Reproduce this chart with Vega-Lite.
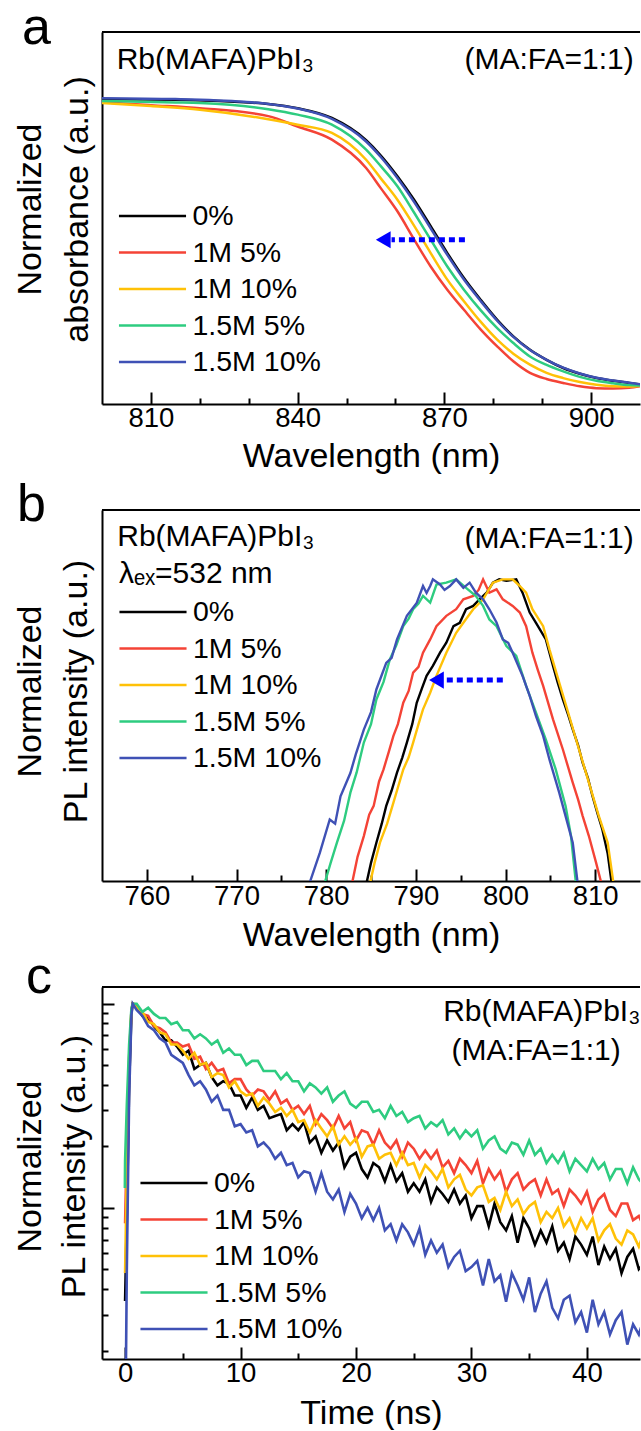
{
"$schema": "https://vega.github.io/schema/vega-lite/v6.json",
"background": "white",
"padding": {"left": 13, "top": 2, "right": 0, "bottom": 0},
"autosize": {"type": "pad"},
"bounds": "flush",
"spacing": 106,
"resolve": {"scale": {"x": "independent", "y": "independent", "color": "independent"}, "axis": {"x": "independent", "y": "independent"}, "legend": {"color": "independent"}},
"config": {
  "font": "Liberation Sans",
  "view": {"stroke": null},
  "axis": {"labelFont": "Liberation Sans", "titleFont": "Liberation Sans", "labelFontSize": 27.5, "titleFontSize": 34, "titleFontWeight": "normal", "labelColor": "#000", "titleColor": "#000", "domainColor": "#000", "domainWidth": 2, "tickColor": "#000", "tickWidth": 2, "grid": false, "labelFlush": false, "labelOverlap": false},
  "legend": {"orient": "none", "title": null, "symbolType": "stroke", "symbolSize": 4500, "symbolStrokeWidth": 2.6, "labelFont": "Liberation Sans", "labelFontSize": 28.5, "labelColor": "#000", "clipHeight": 30, "rowPadding": 6.5, "labelOffset": 5, "padding": 0, "symbolOffset": 0},
  "title": {"font": "Liberation Sans", "fontSize": 52, "fontWeight": "normal", "color": "#000", "anchor": "start", "frame": "group", "baseline": "alphabetic", "offset": 0}
},
"datasets": {
"absorbance": [
{"sample":"0%","wavelength":800,"absorbance":1.000},{"sample":"0%","wavelength":815,"absorbance":0.998},{"sample":"0%","wavelength":829,"absorbance":0.990},{"sample":"0%","wavelength":834,"absorbance":0.984},{"sample":"0%","wavelength":840,"absorbance":0.970},{"sample":"0%","wavelength":847,"absorbance":0.938},{"sample":"0%","wavelength":854,"absorbance":0.865},{"sample":"0%","wavelength":857,"absorbance":0.815},{"sample":"0%","wavelength":860.4,"absorbance":0.747},{"sample":"0%","wavelength":863.8,"absorbance":0.670},{"sample":"0%","wavelength":867.2,"absorbance":0.583},{"sample":"0%","wavelength":870.6,"absorbance":0.495},{"sample":"0%","wavelength":874,"absorbance":0.413},{"sample":"0%","wavelength":877.4,"absorbance":0.342},{"sample":"0%","wavelength":880.8,"absorbance":0.276},{"sample":"0%","wavelength":884.1,"absorbance":0.222},{"sample":"0%","wavelength":887.5,"absorbance":0.178},{"sample":"0%","wavelength":890.9,"absorbance":0.145},{"sample":"0%","wavelength":894.3,"absorbance":0.118},{"sample":"0%","wavelength":897.7,"absorbance":0.099},{"sample":"0%","wavelength":901.1,"absorbance":0.085},{"sample":"0%","wavelength":904.5,"absorbance":0.076},{"sample":"0%","wavelength":907.8,"absorbance":0.069},{"sample":"0%","wavelength":910,"absorbance":0.064},
{"sample":"1M 5%","wavelength":800,"absorbance":0.990},{"sample":"1M 5%","wavelength":810,"absorbance":0.980},{"sample":"1M 5%","wavelength":820,"absorbance":0.970},{"sample":"1M 5%","wavelength":834,"absorbance":0.944},{"sample":"1M 5%","wavelength":840,"absorbance":0.910},{"sample":"1M 5%","wavelength":847,"absorbance":0.867},{"sample":"1M 5%","wavelength":854,"absorbance":0.774},{"sample":"1M 5%","wavelength":857,"absorbance":0.708},{"sample":"1M 5%","wavelength":860.4,"absorbance":0.632},{"sample":"1M 5%","wavelength":863.8,"absorbance":0.540},{"sample":"1M 5%","wavelength":867.2,"absorbance":0.451},{"sample":"1M 5%","wavelength":870.6,"absorbance":0.375},{"sample":"1M 5%","wavelength":874,"absorbance":0.309},{"sample":"1M 5%","wavelength":877.4,"absorbance":0.245},{"sample":"1M 5%","wavelength":880.8,"absorbance":0.189},{"sample":"1M 5%","wavelength":884.1,"absorbance":0.140},{"sample":"1M 5%","wavelength":887.5,"absorbance":0.102},{"sample":"1M 5%","wavelength":890.9,"absorbance":0.082},{"sample":"1M 5%","wavelength":894.3,"absorbance":0.069},{"sample":"1M 5%","wavelength":897.7,"absorbance":0.058},{"sample":"1M 5%","wavelength":901.1,"absorbance":0.052},{"sample":"1M 5%","wavelength":904.5,"absorbance":0.051},{"sample":"1M 5%","wavelength":907.8,"absorbance":0.053},{"sample":"1M 5%","wavelength":910,"absorbance":0.058},
{"sample":"1M 10%","wavelength":800,"absorbance":0.987},{"sample":"1M 10%","wavelength":810,"absorbance":0.977},{"sample":"1M 10%","wavelength":820,"absorbance":0.965},{"sample":"1M 10%","wavelength":834,"absorbance":0.934},{"sample":"1M 10%","wavelength":840,"absorbance":0.916},{"sample":"1M 10%","wavelength":847,"absorbance":0.889},{"sample":"1M 10%","wavelength":854,"absorbance":0.801},{"sample":"1M 10%","wavelength":857,"absorbance":0.740},{"sample":"1M 10%","wavelength":860.4,"absorbance":0.670},{"sample":"1M 10%","wavelength":863.8,"absorbance":0.585},{"sample":"1M 10%","wavelength":867.2,"absorbance":0.495},{"sample":"1M 10%","wavelength":870.6,"absorbance":0.408},{"sample":"1M 10%","wavelength":874,"absorbance":0.337},{"sample":"1M 10%","wavelength":877.4,"absorbance":0.270},{"sample":"1M 10%","wavelength":880.8,"absorbance":0.211},{"sample":"1M 10%","wavelength":884.1,"absorbance":0.165},{"sample":"1M 10%","wavelength":887.5,"absorbance":0.129},{"sample":"1M 10%","wavelength":890.9,"absorbance":0.102},{"sample":"1M 10%","wavelength":894.3,"absorbance":0.085},{"sample":"1M 10%","wavelength":897.7,"absorbance":0.072},{"sample":"1M 10%","wavelength":901.1,"absorbance":0.063},{"sample":"1M 10%","wavelength":904.5,"absorbance":0.058},{"sample":"1M 10%","wavelength":907.8,"absorbance":0.057},{"sample":"1M 10%","wavelength":910,"absorbance":0.060},
{"sample":"1.5M 5%","wavelength":800,"absorbance":0.994},{"sample":"1.5M 5%","wavelength":815,"absorbance":0.989},{"sample":"1.5M 5%","wavelength":820,"absorbance":0.987},{"sample":"1.5M 5%","wavelength":834,"absorbance":0.967},{"sample":"1.5M 5%","wavelength":840,"absorbance":0.949},{"sample":"1.5M 5%","wavelength":847,"absorbance":0.916},{"sample":"1.5M 5%","wavelength":854,"absorbance":0.834},{"sample":"1.5M 5%","wavelength":857,"absorbance":0.780},{"sample":"1.5M 5%","wavelength":860.4,"absorbance":0.714},{"sample":"1.5M 5%","wavelength":863.8,"absorbance":0.628},{"sample":"1.5M 5%","wavelength":867.2,"absorbance":0.539},{"sample":"1.5M 5%","wavelength":870.6,"absorbance":0.451},{"sample":"1.5M 5%","wavelength":874,"absorbance":0.375},{"sample":"1.5M 5%","wavelength":877.4,"absorbance":0.308},{"sample":"1.5M 5%","wavelength":880.8,"absorbance":0.249},{"sample":"1.5M 5%","wavelength":884.1,"absorbance":0.200},{"sample":"1.5M 5%","wavelength":887.5,"absorbance":0.156},{"sample":"1.5M 5%","wavelength":890.9,"absorbance":0.128},{"sample":"1.5M 5%","wavelength":894.3,"absorbance":0.107},{"sample":"1.5M 5%","wavelength":897.7,"absorbance":0.089},{"sample":"1.5M 5%","wavelength":901.1,"absorbance":0.076},{"sample":"1.5M 5%","wavelength":904.5,"absorbance":0.068},{"sample":"1.5M 5%","wavelength":907.8,"absorbance":0.062},{"sample":"1.5M 5%","wavelength":910,"absorbance":0.061},
{"sample":"1.5M 10%","wavelength":800,"absorbance":1.003},{"sample":"1.5M 10%","wavelength":815,"absorbance":1.000},{"sample":"1.5M 10%","wavelength":829,"absorbance":0.991},{"sample":"1.5M 10%","wavelength":834,"absorbance":0.984},{"sample":"1.5M 10%","wavelength":840,"absorbance":0.969},{"sample":"1.5M 10%","wavelength":847,"absorbance":0.935},{"sample":"1.5M 10%","wavelength":854,"absorbance":0.861},{"sample":"1.5M 10%","wavelength":857,"absorbance":0.810},{"sample":"1.5M 10%","wavelength":860.4,"absorbance":0.741},{"sample":"1.5M 10%","wavelength":863.8,"absorbance":0.663},{"sample":"1.5M 10%","wavelength":867.2,"absorbance":0.576},{"sample":"1.5M 10%","wavelength":870.6,"absorbance":0.489},{"sample":"1.5M 10%","wavelength":874,"absorbance":0.408},{"sample":"1.5M 10%","wavelength":877.4,"absorbance":0.338},{"sample":"1.5M 10%","wavelength":880.8,"absorbance":0.273},{"sample":"1.5M 10%","wavelength":884.1,"absorbance":0.220},{"sample":"1.5M 10%","wavelength":887.5,"absorbance":0.177},{"sample":"1.5M 10%","wavelength":890.9,"absorbance":0.145},{"sample":"1.5M 10%","wavelength":894.3,"absorbance":0.119},{"sample":"1.5M 10%","wavelength":897.7,"absorbance":0.100},{"sample":"1.5M 10%","wavelength":901.1,"absorbance":0.086},{"sample":"1.5M 10%","wavelength":904.5,"absorbance":0.077},{"sample":"1.5M 10%","wavelength":907.8,"absorbance":0.070},{"sample":"1.5M 10%","wavelength":910,"absorbance":0.065}
],
"pl": [
{"sample":"0%","wavelength":784.4,"pl":-0.02},{"sample":"0%","wavelength":785.0,"pl":0.06},{"sample":"0%","wavelength":785.6,"pl":0.127},{"sample":"0%","wavelength":786.2,"pl":0.19},{"sample":"0%","wavelength":786.7,"pl":0.249},{"sample":"0%","wavelength":787.3,"pl":0.30},{"sample":"0%","wavelength":787.9,"pl":0.359},{"sample":"0%","wavelength":788.5,"pl":0.41},{"sample":"0%","wavelength":789.0,"pl":0.459},{"sample":"0%","wavelength":789.6,"pl":0.52},{"sample":"0%","wavelength":790.1,"pl":0.591},{"sample":"0%","wavelength":790.7,"pl":0.64},{"sample":"0%","wavelength":791.2,"pl":0.680},{"sample":"0%","wavelength":791.9,"pl":0.713},{"sample":"0%","wavelength":792.7,"pl":0.757},{"sample":"0%","wavelength":793.4,"pl":0.790},{"sample":"0%","wavelength":794.2,"pl":0.845},{"sample":"0%","wavelength":794.9,"pl":0.856},{"sample":"0%","wavelength":795.6,"pl":0.901},{"sample":"0%","wavelength":796.4,"pl":0.912},{"sample":"0%","wavelength":797.1,"pl":0.934},{"sample":"0%","wavelength":797.9,"pl":0.956},{"sample":"0%","wavelength":798.6,"pl":0.989},{"sample":"0%","wavelength":799.3,"pl":1.000},{"sample":"0%","wavelength":800.1,"pl":0.995},{"sample":"0%","wavelength":801.2,"pl":1.000},{"sample":"0%","wavelength":801.9,"pl":0.956},{"sample":"0%","wavelength":802.7,"pl":0.890},{"sample":"0%","wavelength":803.4,"pl":0.856},{"sample":"0%","wavelength":804.5,"pl":0.801},{"sample":"0%","wavelength":805.3,"pl":0.713},{"sample":"0%","wavelength":805.8,"pl":0.66},{"sample":"0%","wavelength":806.4,"pl":0.602},{"sample":"0%","wavelength":807.0,"pl":0.55},{"sample":"0%","wavelength":807.5,"pl":0.503},{"sample":"0%","wavelength":808.1,"pl":0.45},{"sample":"0%","wavelength":808.6,"pl":0.392},{"sample":"0%","wavelength":809.2,"pl":0.34},{"sample":"0%","wavelength":809.7,"pl":0.282},{"sample":"0%","wavelength":810.3,"pl":0.22},{"sample":"0%","wavelength":810.8,"pl":0.171},{"sample":"0%","wavelength":811.4,"pl":0.09},{"sample":"0%","wavelength":811.9,"pl":-0.02},
{"sample":"1M 5%","wavelength":782.8,"pl":-0.02},{"sample":"1M 5%","wavelength":783.5,"pl":0.08},{"sample":"1M 5%","wavelength":784.2,"pl":0.149},{"sample":"1M 5%","wavelength":784.8,"pl":0.22},{"sample":"1M 5%","wavelength":785.3,"pl":0.249},{"sample":"1M 5%","wavelength":785.9,"pl":0.33},{"sample":"1M 5%","wavelength":786.4,"pl":0.370},{"sample":"1M 5%","wavelength":787.0,"pl":0.43},{"sample":"1M 5%","wavelength":787.5,"pl":0.481},{"sample":"1M 5%","wavelength":788.0,"pl":0.52},{"sample":"1M 5%","wavelength":788.6,"pl":0.591},{"sample":"1M 5%","wavelength":789.2,"pl":0.63},{"sample":"1M 5%","wavelength":789.7,"pl":0.691},{"sample":"1M 5%","wavelength":790.3,"pl":0.71},{"sample":"1M 5%","wavelength":790.8,"pl":0.757},{"sample":"1M 5%","wavelength":791.6,"pl":0.801},{"sample":"1M 5%","wavelength":792.3,"pl":0.845},{"sample":"1M 5%","wavelength":793.4,"pl":0.879},{"sample":"1M 5%","wavelength":794.5,"pl":0.901},{"sample":"1M 5%","wavelength":795.3,"pl":0.934},{"sample":"1M 5%","wavelength":796.4,"pl":0.945},{"sample":"1M 5%","wavelength":797.0,"pl":0.965},{"sample":"1M 5%","wavelength":797.5,"pl":1.000},{"sample":"1M 5%","wavelength":798.2,"pl":0.956},{"sample":"1M 5%","wavelength":799.0,"pl":0.967},{"sample":"1M 5%","wavelength":799.7,"pl":0.934},{"sample":"1M 5%","wavelength":800.8,"pl":0.912},{"sample":"1M 5%","wavelength":801.6,"pl":0.890},{"sample":"1M 5%","wavelength":802.3,"pl":0.845},{"sample":"1M 5%","wavelength":803.0,"pl":0.757},{"sample":"1M 5%","wavelength":803.6,"pl":0.70},{"sample":"1M 5%","wavelength":804.2,"pl":0.647},{"sample":"1M 5%","wavelength":805.3,"pl":0.536},{"sample":"1M 5%","wavelength":806.4,"pl":0.436},{"sample":"1M 5%","wavelength":807.5,"pl":0.326},{"sample":"1M 5%","wavelength":808.1,"pl":0.27},{"sample":"1M 5%","wavelength":808.6,"pl":0.216},{"sample":"1M 5%","wavelength":809.3,"pl":0.149},{"sample":"1M 5%","wavelength":810.1,"pl":0.061},{"sample":"1M 5%","wavelength":810.8,"pl":-0.02},
{"sample":"1M 10%","wavelength":784.8,"pl":-0.02},{"sample":"1M 10%","wavelength":785.4,"pl":0.06},{"sample":"1M 10%","wavelength":786.0,"pl":0.127},{"sample":"1M 10%","wavelength":786.8,"pl":0.19},{"sample":"1M 10%","wavelength":787.5,"pl":0.260},{"sample":"1M 10%","wavelength":788.0,"pl":0.31},{"sample":"1M 10%","wavelength":788.6,"pl":0.370},{"sample":"1M 10%","wavelength":789.2,"pl":0.41},{"sample":"1M 10%","wavelength":789.7,"pl":0.459},{"sample":"1M 10%","wavelength":790.3,"pl":0.52},{"sample":"1M 10%","wavelength":790.8,"pl":0.569},{"sample":"1M 10%","wavelength":791.6,"pl":0.624},{"sample":"1M 10%","wavelength":792.3,"pl":0.680},{"sample":"1M 10%","wavelength":793.4,"pl":0.757},{"sample":"1M 10%","wavelength":794.5,"pl":0.823},{"sample":"1M 10%","wavelength":795.3,"pl":0.856},{"sample":"1M 10%","wavelength":796.4,"pl":0.901},{"sample":"1M 10%","wavelength":797.5,"pl":0.934},{"sample":"1M 10%","wavelength":798.6,"pl":0.989},{"sample":"1M 10%","wavelength":799.7,"pl":1.000},{"sample":"1M 10%","wavelength":800.8,"pl":1.000},{"sample":"1M 10%","wavelength":801.6,"pl":0.978},{"sample":"1M 10%","wavelength":802.3,"pl":0.956},{"sample":"1M 10%","wavelength":803.0,"pl":0.901},{"sample":"1M 10%","wavelength":804.2,"pl":0.845},{"sample":"1M 10%","wavelength":804.9,"pl":0.768},{"sample":"1M 10%","wavelength":806.0,"pl":0.657},{"sample":"1M 10%","wavelength":807.1,"pl":0.547},{"sample":"1M 10%","wavelength":808.2,"pl":0.436},{"sample":"1M 10%","wavelength":809.3,"pl":0.326},{"sample":"1M 10%","wavelength":810.4,"pl":0.216},{"sample":"1M 10%","wavelength":811.4,"pl":0.127},{"sample":"1M 10%","wavelength":812.1,"pl":-0.02},
{"sample":"1.5M 5%","wavelength":779.7,"pl":-0.02},{"sample":"1.5M 5%","wavelength":780.5,"pl":0.06},{"sample":"1.5M 5%","wavelength":781.2,"pl":0.127},{"sample":"1.5M 5%","wavelength":782.0,"pl":0.20},{"sample":"1.5M 5%","wavelength":782.7,"pl":0.293},{"sample":"1.5M 5%","wavelength":783.4,"pl":0.36},{"sample":"1.5M 5%","wavelength":784.2,"pl":0.459},{"sample":"1.5M 5%","wavelength":785.0,"pl":0.52},{"sample":"1.5M 5%","wavelength":785.6,"pl":0.602},{"sample":"1.5M 5%","wavelength":786.4,"pl":0.66},{"sample":"1.5M 5%","wavelength":787.1,"pl":0.735},{"sample":"1.5M 5%","wavelength":787.8,"pl":0.78},{"sample":"1.5M 5%","wavelength":788.6,"pl":0.845},{"sample":"1.5M 5%","wavelength":789.2,"pl":0.87},{"sample":"1.5M 5%","wavelength":789.7,"pl":0.901},{"sample":"1.5M 5%","wavelength":790.3,"pl":0.92},{"sample":"1.5M 5%","wavelength":790.8,"pl":0.945},{"sample":"1.5M 5%","wavelength":791.6,"pl":0.923},{"sample":"1.5M 5%","wavelength":792.3,"pl":0.983},{"sample":"1.5M 5%","wavelength":793.4,"pl":0.989},{"sample":"1.5M 5%","wavelength":794.5,"pl":1.000},{"sample":"1.5M 5%","wavelength":795.6,"pl":0.972},{"sample":"1.5M 5%","wavelength":796.7,"pl":0.945},{"sample":"1.5M 5%","wavelength":797.5,"pl":0.912},{"sample":"1.5M 5%","wavelength":798.2,"pl":0.867},{"sample":"1.5M 5%","wavelength":799.0,"pl":0.845},{"sample":"1.5M 5%","wavelength":800.1,"pl":0.779},{"sample":"1.5M 5%","wavelength":801.2,"pl":0.746},{"sample":"1.5M 5%","wavelength":802.3,"pl":0.647},{"sample":"1.5M 5%","wavelength":803.4,"pl":0.558},{"sample":"1.5M 5%","wavelength":804.5,"pl":0.469},{"sample":"1.5M 5%","wavelength":805.6,"pl":0.370},{"sample":"1.5M 5%","wavelength":806.7,"pl":0.249},{"sample":"1.5M 5%","wavelength":807.3,"pl":0.15},{"sample":"1.5M 5%","wavelength":807.9,"pl":-0.02},
{"sample":"1.5M 10%","wavelength":778.0,"pl":-0.02},{"sample":"1.5M 10%","wavelength":779.3,"pl":0.094},{"sample":"1.5M 10%","wavelength":780.4,"pl":0.204},{"sample":"1.5M 10%","wavelength":781.0,"pl":0.190},{"sample":"1.5M 10%","wavelength":781.6,"pl":0.281},{"sample":"1.5M 10%","wavelength":782.7,"pl":0.358},{"sample":"1.5M 10%","wavelength":783.3,"pl":0.420},{"sample":"1.5M 10%","wavelength":784.2,"pl":0.502},{"sample":"1.5M 10%","wavelength":785.0,"pl":0.560},{"sample":"1.5M 10%","wavelength":785.6,"pl":0.635},{"sample":"1.5M 10%","wavelength":786.7,"pl":0.723},{"sample":"1.5M 10%","wavelength":787.3,"pl":0.740},{"sample":"1.5M 10%","wavelength":787.9,"pl":0.801},{"sample":"1.5M 10%","wavelength":789.0,"pl":0.879},{"sample":"1.5M 10%","wavelength":790.1,"pl":0.922},{"sample":"1.5M 10%","wavelength":790.8,"pl":0.978},{"sample":"1.5M 10%","wavelength":791.2,"pl":0.955},{"sample":"1.5M 10%","wavelength":791.6,"pl":0.978},{"sample":"1.5M 10%","wavelength":791.9,"pl":1.000},{"sample":"1.5M 10%","wavelength":792.7,"pl":0.983},{"sample":"1.5M 10%","wavelength":793.2,"pl":0.965},{"sample":"1.5M 10%","wavelength":793.8,"pl":0.978},{"sample":"1.5M 10%","wavelength":794.5,"pl":1.000},{"sample":"1.5M 10%","wavelength":795.3,"pl":0.972},{"sample":"1.5M 10%","wavelength":796.0,"pl":0.989},{"sample":"1.5M 10%","wavelength":796.7,"pl":0.956},{"sample":"1.5M 10%","wavelength":797.5,"pl":0.934},{"sample":"1.5M 10%","wavelength":798.2,"pl":0.901},{"sample":"1.5M 10%","wavelength":799.0,"pl":0.857},{"sample":"1.5M 10%","wavelength":799.7,"pl":0.801},{"sample":"1.5M 10%","wavelength":800.3,"pl":0.790},{"sample":"1.5M 10%","wavelength":800.8,"pl":0.757},{"sample":"1.5M 10%","wavelength":801.9,"pl":0.680},{"sample":"1.5M 10%","wavelength":802.7,"pl":0.614},{"sample":"1.5M 10%","wavelength":803.4,"pl":0.547},{"sample":"1.5M 10%","wavelength":804.2,"pl":0.481},{"sample":"1.5M 10%","wavelength":804.9,"pl":0.403},{"sample":"1.5M 10%","wavelength":806.0,"pl":0.292},{"sample":"1.5M 10%","wavelength":806.7,"pl":0.215},{"sample":"1.5M 10%","wavelength":807.5,"pl":0.127},{"sample":"1.5M 10%","wavelength":808.1,"pl":-0.02}
],
"trpl": [
{"sample":"0%","time":0,"intensity":0.035},{"sample":"0%","time":0.15,"intensity":0.09},{"sample":"0%","time":0.35,"intensity":0.40},{"sample":"0%","time":0.55,"intensity":0.90},{"sample":"0%","time":0.66,"intensity":1.0},
{"sample":"0%","time":1,"intensity":0.977},{"sample":"0%","time":1.5,"intensity":0.871},{"sample":"0%","time":2,"intensity":0.851},{"sample":"0%","time":2.5,"intensity":0.776},{"sample":"0%","time":3,"intensity":0.724},{"sample":"0%","time":3.5,"intensity":0.661},{"sample":"0%","time":4,"intensity":0.661},{"sample":"0%","time":4.5,"intensity":0.617},{"sample":"0%","time":5,"intensity":0.562},{"sample":"0%","time":5.5,"intensity":0.589},{"sample":"0%","time":6,"intensity":0.479},{"sample":"0%","time":6.5,"intensity":0.501},{"sample":"0%","time":7,"intensity":0.513},{"sample":"0%","time":7.5,"intensity":0.437},{"sample":"0%","time":8,"intensity":0.398},{"sample":"0%","time":8.5,"intensity":0.417},{"sample":"0%","time":9,"intensity":0.407},{"sample":"0%","time":9.5,"intensity":0.355},{"sample":"0%","time":10,"intensity":0.355},{"sample":"0%","time":10.5,"intensity":0.309},{"sample":"0%","time":11,"intensity":0.347},{"sample":"0%","time":11.5,"intensity":0.302},{"sample":"0%","time":12,"intensity":0.316},{"sample":"0%","time":12.5,"intensity":0.275},{"sample":"0%","time":13,"intensity":0.282},{"sample":"0%","time":13.5,"intensity":0.288},{"sample":"0%","time":14,"intensity":0.240},{"sample":"0%","time":14.5,"intensity":0.257},{"sample":"0%","time":15,"intensity":0.240},{"sample":"0%","time":15.5,"intensity":0.263},{"sample":"0%","time":16,"intensity":0.209},{"sample":"0%","time":16.5,"intensity":0.224},{"sample":"0%","time":17,"intensity":0.186},{"sample":"0%","time":17.5,"intensity":0.214},{"sample":"0%","time":18,"intensity":0.191},{"sample":"0%","time":18.5,"intensity":0.209},{"sample":"0%","time":19,"intensity":0.158},{"sample":"0%","time":19.5,"intensity":0.178},{"sample":"0%","time":20,"intensity":0.186},{"sample":"0%","time":20.5,"intensity":0.155},{"sample":"0%","time":21,"intensity":0.141},{"sample":"0%","time":21.5,"intensity":0.166},{"sample":"0%","time":22,"intensity":0.158},{"sample":"0%","time":22.5,"intensity":0.135},{"sample":"0%","time":23,"intensity":0.162},{"sample":"0%","time":23.5,"intensity":0.135},{"sample":"0%","time":24,"intensity":0.148},{"sample":"0%","time":24.5,"intensity":0.120},{"sample":"0%","time":25,"intensity":0.132},{"sample":"0%","time":25.5,"intensity":0.120},{"sample":"0%","time":26,"intensity":0.138},{"sample":"0%","time":26.5,"intensity":0.107},{"sample":"0%","time":27,"intensity":0.126},{"sample":"0%","time":27.5,"intensity":0.117},{"sample":"0%","time":28,"intensity":0.107},{"sample":"0%","time":28.5,"intensity":0.123},{"sample":"0%","time":29,"intensity":0.105},{"sample":"0%","time":29.5,"intensity":0.115},{"sample":"0%","time":30,"intensity":0.0891},{"sample":"0%","time":30.5,"intensity":0.102},{"sample":"0%","time":31,"intensity":0.102},{"sample":"0%","time":31.5,"intensity":0.0813},{"sample":"0%","time":32,"intensity":0.105},{"sample":"0%","time":32.5,"intensity":0.0851},{"sample":"0%","time":33,"intensity":0.0776},{"sample":"0%","time":33.5,"intensity":0.0912},{"sample":"0%","time":34,"intensity":0.0676},{"sample":"0%","time":34.5,"intensity":0.0891},{"sample":"0%","time":35,"intensity":0.0794},{"sample":"0%","time":35.5,"intensity":0.0661},{"sample":"0%","time":36,"intensity":0.0776},{"sample":"0%","time":36.5,"intensity":0.0676},{"sample":"0%","time":37,"intensity":0.0813},{"sample":"0%","time":37.5,"intensity":0.0617},{"sample":"0%","time":38,"intensity":0.0676},{"sample":"0%","time":38.5,"intensity":0.0562},{"sample":"0%","time":39,"intensity":0.0724},{"sample":"0%","time":39.5,"intensity":0.0661},{"sample":"0%","time":40,"intensity":0.0589},{"sample":"0%","time":40.5,"intensity":0.0724},{"sample":"0%","time":41,"intensity":0.0525},{"sample":"0%","time":41.5,"intensity":0.0646},{"sample":"0%","time":42,"intensity":0.0562},{"sample":"0%","time":42.5,"intensity":0.0631},{"sample":"0%","time":43,"intensity":0.0479},{"sample":"0%","time":43.5,"intensity":0.0575},{"sample":"0%","time":44,"intensity":0.0631},{"sample":"0%","time":44.5,"intensity":0.0501},{"sample":"0%","time":45,"intensity":0.0537},
{"sample":"1M 5%","time":0,"intensity":0.084},{"sample":"1M 5%","time":0.15,"intensity":0.20},{"sample":"1M 5%","time":0.35,"intensity":0.55},{"sample":"1M 5%","time":0.55,"intensity":0.93},{"sample":"1M 5%","time":0.66,"intensity":1.0},
{"sample":"1M 5%","time":1,"intensity":0.99},{"sample":"1M 5%","time":1.5,"intensity":0.891},{"sample":"1M 5%","time":2,"intensity":0.871},{"sample":"1M 5%","time":2.5,"intensity":0.776},{"sample":"1M 5%","time":3,"intensity":0.759},{"sample":"1M 5%","time":3.5,"intensity":0.724},{"sample":"1M 5%","time":4,"intensity":0.646},{"sample":"1M 5%","time":4.5,"intensity":0.646},{"sample":"1M 5%","time":5,"intensity":0.617},{"sample":"1M 5%","time":5.5,"intensity":0.631},{"sample":"1M 5%","time":6,"intensity":0.537},{"sample":"1M 5%","time":6.5,"intensity":0.550},{"sample":"1M 5%","time":7,"intensity":0.479},{"sample":"1M 5%","time":7.5,"intensity":0.513},{"sample":"1M 5%","time":8,"intensity":0.468},{"sample":"1M 5%","time":8.5,"intensity":0.479},{"sample":"1M 5%","time":9,"intensity":0.407},{"sample":"1M 5%","time":9.5,"intensity":0.427},{"sample":"1M 5%","time":10,"intensity":0.427},{"sample":"1M 5%","time":10.5,"intensity":0.380},{"sample":"1M 5%","time":11,"intensity":0.355},{"sample":"1M 5%","time":11.5,"intensity":0.380},{"sample":"1M 5%","time":12,"intensity":0.372},{"sample":"1M 5%","time":12.5,"intensity":0.339},{"sample":"1M 5%","time":13,"intensity":0.372},{"sample":"1M 5%","time":13.5,"intensity":0.324},{"sample":"1M 5%","time":14,"intensity":0.339},{"sample":"1M 5%","time":14.5,"intensity":0.302},{"sample":"1M 5%","time":15,"intensity":0.316},{"sample":"1M 5%","time":15.5,"intensity":0.288},{"sample":"1M 5%","time":16,"intensity":0.316},{"sample":"1M 5%","time":16.5,"intensity":0.257},{"sample":"1M 5%","time":17,"intensity":0.288},{"sample":"1M 5%","time":17.5,"intensity":0.269},{"sample":"1M 5%","time":18,"intensity":0.245},{"sample":"1M 5%","time":18.5,"intensity":0.282},{"sample":"1M 5%","time":19,"intensity":0.245},{"sample":"1M 5%","time":19.5,"intensity":0.263},{"sample":"1M 5%","time":20,"intensity":0.214},{"sample":"1M 5%","time":20.5,"intensity":0.240},{"sample":"1M 5%","time":21,"intensity":0.234},{"sample":"1M 5%","time":21.5,"intensity":0.204},{"sample":"1M 5%","time":22,"intensity":0.240},{"sample":"1M 5%","time":22.5,"intensity":0.209},{"sample":"1M 5%","time":23,"intensity":0.195},{"sample":"1M 5%","time":23.5,"intensity":0.214},{"sample":"1M 5%","time":24,"intensity":0.178},{"sample":"1M 5%","time":24.5,"intensity":0.209},{"sample":"1M 5%","time":25,"intensity":0.195},{"sample":"1M 5%","time":25.5,"intensity":0.174},{"sample":"1M 5%","time":26,"intensity":0.191},{"sample":"1M 5%","time":26.5,"intensity":0.174},{"sample":"1M 5%","time":27,"intensity":0.191},{"sample":"1M 5%","time":27.5,"intensity":0.158},{"sample":"1M 5%","time":28,"intensity":0.170},{"sample":"1M 5%","time":28.5,"intensity":0.148},{"sample":"1M 5%","time":29,"intensity":0.174},{"sample":"1M 5%","time":29.5,"intensity":0.162},{"sample":"1M 5%","time":30,"intensity":0.148},{"sample":"1M 5%","time":30.5,"intensity":0.170},{"sample":"1M 5%","time":31,"intensity":0.132},{"sample":"1M 5%","time":31.5,"intensity":0.155},{"sample":"1M 5%","time":32,"intensity":0.138},{"sample":"1M 5%","time":32.5,"intensity":0.151},{"sample":"1M 5%","time":33,"intensity":0.120},{"sample":"1M 5%","time":33.5,"intensity":0.138},{"sample":"1M 5%","time":34,"intensity":0.148},{"sample":"1M 5%","time":34.5,"intensity":0.123},{"sample":"1M 5%","time":35,"intensity":0.132},{"sample":"1M 5%","time":35.5,"intensity":0.138},{"sample":"1M 5%","time":36,"intensity":0.115},{"sample":"1M 5%","time":36.5,"intensity":0.138},{"sample":"1M 5%","time":37,"intensity":0.117},{"sample":"1M 5%","time":37.5,"intensity":0.123},{"sample":"1M 5%","time":38,"intensity":0.102},{"sample":"1M 5%","time":38.5,"intensity":0.123},{"sample":"1M 5%","time":39,"intensity":0.115},{"sample":"1M 5%","time":39.5,"intensity":0.105},{"sample":"1M 5%","time":40,"intensity":0.120},{"sample":"1M 5%","time":40.5,"intensity":0.0955},{"sample":"1M 5%","time":41,"intensity":0.110},{"sample":"1M 5%","time":41.5,"intensity":0.117},{"sample":"1M 5%","time":42,"intensity":0.0977},{"sample":"1M 5%","time":42.5,"intensity":0.0912},{"sample":"1M 5%","time":43,"intensity":0.105},{"sample":"1M 5%","time":43.5,"intensity":0.105},{"sample":"1M 5%","time":44,"intensity":0.0871},{"sample":"1M 5%","time":44.5,"intensity":0.0912},{"sample":"1M 5%","time":45,"intensity":0.0794},
{"sample":"1M 10%","time":0,"intensity":0.048},{"sample":"1M 10%","time":0.15,"intensity":0.15},{"sample":"1M 10%","time":0.35,"intensity":0.50},{"sample":"1M 10%","time":0.55,"intensity":0.92},{"sample":"1M 10%","time":0.66,"intensity":1.0},
{"sample":"1M 10%","time":1,"intensity":0.955},{"sample":"1M 10%","time":1.5,"intensity":0.912},{"sample":"1M 10%","time":2,"intensity":0.813},{"sample":"1M 10%","time":2.5,"intensity":0.794},{"sample":"1M 10%","time":3,"intensity":0.724},{"sample":"1M 10%","time":3.5,"intensity":0.708},{"sample":"1M 10%","time":4,"intensity":0.631},{"sample":"1M 10%","time":4.5,"intensity":0.631},{"sample":"1M 10%","time":5,"intensity":0.589},{"sample":"1M 10%","time":5.5,"intensity":0.537},{"sample":"1M 10%","time":6,"intensity":0.575},{"sample":"1M 10%","time":6.5,"intensity":0.501},{"sample":"1M 10%","time":7,"intensity":0.513},{"sample":"1M 10%","time":7.5,"intensity":0.437},{"sample":"1M 10%","time":8,"intensity":0.457},{"sample":"1M 10%","time":8.5,"intensity":0.447},{"sample":"1M 10%","time":9,"intensity":0.389},{"sample":"1M 10%","time":9.5,"intensity":0.417},{"sample":"1M 10%","time":10,"intensity":0.372},{"sample":"1M 10%","time":10.5,"intensity":0.355},{"sample":"1M 10%","time":11,"intensity":0.363},{"sample":"1M 10%","time":11.5,"intensity":0.316},{"sample":"1M 10%","time":12,"intensity":0.347},{"sample":"1M 10%","time":12.5,"intensity":0.324},{"sample":"1M 10%","time":13,"intensity":0.295},{"sample":"1M 10%","time":13.5,"intensity":0.309},{"sample":"1M 10%","time":14,"intensity":0.282},{"sample":"1M 10%","time":14.5,"intensity":0.302},{"sample":"1M 10%","time":15,"intensity":0.263},{"sample":"1M 10%","time":15.5,"intensity":0.269},{"sample":"1M 10%","time":16,"intensity":0.234},{"sample":"1M 10%","time":16.5,"intensity":0.269},{"sample":"1M 10%","time":17,"intensity":0.245},{"sample":"1M 10%","time":17.5,"intensity":0.224},{"sample":"1M 10%","time":18,"intensity":0.251},{"sample":"1M 10%","time":18.5,"intensity":0.204},{"sample":"1M 10%","time":19,"intensity":0.224},{"sample":"1M 10%","time":19.5,"intensity":0.204},{"sample":"1M 10%","time":20,"intensity":0.219},{"sample":"1M 10%","time":20.5,"intensity":0.178},{"sample":"1M 10%","time":21,"intensity":0.200},{"sample":"1M 10%","time":21.5,"intensity":0.204},{"sample":"1M 10%","time":22,"intensity":0.174},{"sample":"1M 10%","time":22.5,"intensity":0.182},{"sample":"1M 10%","time":23,"intensity":0.186},{"sample":"1M 10%","time":23.5,"intensity":0.162},{"sample":"1M 10%","time":24,"intensity":0.186},{"sample":"1M 10%","time":24.5,"intensity":0.162},{"sample":"1M 10%","time":25,"intensity":0.166},{"sample":"1M 10%","time":25.5,"intensity":0.141},{"sample":"1M 10%","time":26,"intensity":0.162},{"sample":"1M 10%","time":26.5,"intensity":0.151},{"sample":"1M 10%","time":27,"intensity":0.138},{"sample":"1M 10%","time":27.5,"intensity":0.155},{"sample":"1M 10%","time":28,"intensity":0.126},{"sample":"1M 10%","time":28.5,"intensity":0.138},{"sample":"1M 10%","time":29,"intensity":0.145},{"sample":"1M 10%","time":29.5,"intensity":0.123},{"sample":"1M 10%","time":30,"intensity":0.115},{"sample":"1M 10%","time":30.5,"intensity":0.126},{"sample":"1M 10%","time":31,"intensity":0.129},{"sample":"1M 10%","time":31.5,"intensity":0.107},{"sample":"1M 10%","time":32,"intensity":0.112},{"sample":"1M 10%","time":32.5,"intensity":0.0977},{"sample":"1M 10%","time":33,"intensity":0.120},{"sample":"1M 10%","time":33.5,"intensity":0.102},{"sample":"1M 10%","time":34,"intensity":0.110},{"sample":"1M 10%","time":34.5,"intensity":0.0933},{"sample":"1M 10%","time":35,"intensity":0.102},{"sample":"1M 10%","time":35.5,"intensity":0.107},{"sample":"1M 10%","time":36,"intensity":0.0851},{"sample":"1M 10%","time":36.5,"intensity":0.0955},{"sample":"1M 10%","time":37,"intensity":0.0891},{"sample":"1M 10%","time":37.5,"intensity":0.100},{"sample":"1M 10%","time":38,"intensity":0.0813},{"sample":"1M 10%","time":38.5,"intensity":0.0891},{"sample":"1M 10%","time":39,"intensity":0.0759},{"sample":"1M 10%","time":39.5,"intensity":0.0891},{"sample":"1M 10%","time":40,"intensity":0.0794},{"sample":"1M 10%","time":40.5,"intensity":0.0891},{"sample":"1M 10%","time":41,"intensity":0.0692},{"sample":"1M 10%","time":41.5,"intensity":0.0776},{"sample":"1M 10%","time":42,"intensity":0.0832},{"sample":"1M 10%","time":42.5,"intensity":0.0708},{"sample":"1M 10%","time":43,"intensity":0.0661},{"sample":"1M 10%","time":43.5,"intensity":0.0776},{"sample":"1M 10%","time":44,"intensity":0.0741},{"sample":"1M 10%","time":44.5,"intensity":0.0646},{"sample":"1M 10%","time":45,"intensity":0.0776},
{"sample":"1.5M 5%","time":-0.02,"intensity":0.125},{"sample":"1.5M 5%","time":0,"intensity":0.17},{"sample":"1.5M 5%","time":0.15,"intensity":0.32},{"sample":"1.5M 5%","time":0.35,"intensity":0.63},{"sample":"1.5M 5%","time":0.55,"intensity":0.95},{"sample":"1.5M 5%","time":0.66,"intensity":1.0},
{"sample":"1.5M 5%","time":1,"intensity":1.0},{"sample":"1.5M 5%","time":1.5,"intensity":0.912},{"sample":"1.5M 5%","time":2,"intensity":0.955},{"sample":"1.5M 5%","time":2.5,"intensity":0.891},{"sample":"1.5M 5%","time":3,"intensity":0.851},{"sample":"1.5M 5%","time":3.5,"intensity":0.851},{"sample":"1.5M 5%","time":4,"intensity":0.794},{"sample":"1.5M 5%","time":4.5,"intensity":0.813},{"sample":"1.5M 5%","time":5,"intensity":0.741},{"sample":"1.5M 5%","time":5.5,"intensity":0.741},{"sample":"1.5M 5%","time":6,"intensity":0.676},{"sample":"1.5M 5%","time":6.5,"intensity":0.708},{"sample":"1.5M 5%","time":7,"intensity":0.676},{"sample":"1.5M 5%","time":7.5,"intensity":0.631},{"sample":"1.5M 5%","time":8,"intensity":0.661},{"sample":"1.5M 5%","time":8.5,"intensity":0.575},{"sample":"1.5M 5%","time":9,"intensity":0.603},{"sample":"1.5M 5%","time":9.5,"intensity":0.562},{"sample":"1.5M 5%","time":10,"intensity":0.562},{"sample":"1.5M 5%","time":10.5,"intensity":0.501},{"sample":"1.5M 5%","time":11,"intensity":0.525},{"sample":"1.5M 5%","time":11.5,"intensity":0.525},{"sample":"1.5M 5%","time":12,"intensity":0.468},{"sample":"1.5M 5%","time":12.5,"intensity":0.468},{"sample":"1.5M 5%","time":13,"intensity":0.468},{"sample":"1.5M 5%","time":13.5,"intensity":0.427},{"sample":"1.5M 5%","time":14,"intensity":0.457},{"sample":"1.5M 5%","time":14.5,"intensity":0.417},{"sample":"1.5M 5%","time":15,"intensity":0.417},{"sample":"1.5M 5%","time":15.5,"intensity":0.372},{"sample":"1.5M 5%","time":16,"intensity":0.407},{"sample":"1.5M 5%","time":16.5,"intensity":0.389},{"sample":"1.5M 5%","time":17,"intensity":0.363},{"sample":"1.5M 5%","time":17.5,"intensity":0.389},{"sample":"1.5M 5%","time":18,"intensity":0.331},{"sample":"1.5M 5%","time":18.5,"intensity":0.355},{"sample":"1.5M 5%","time":19,"intensity":0.372},{"sample":"1.5M 5%","time":19.5,"intensity":0.324},{"sample":"1.5M 5%","time":20,"intensity":0.309},{"sample":"1.5M 5%","time":20.5,"intensity":0.331},{"sample":"1.5M 5%","time":21,"intensity":0.331},{"sample":"1.5M 5%","time":21.5,"intensity":0.295},{"sample":"1.5M 5%","time":22,"intensity":0.302},{"sample":"1.5M 5%","time":22.5,"intensity":0.275},{"sample":"1.5M 5%","time":23,"intensity":0.316},{"sample":"1.5M 5%","time":23.5,"intensity":0.282},{"sample":"1.5M 5%","time":24,"intensity":0.295},{"sample":"1.5M 5%","time":24.5,"intensity":0.263},{"sample":"1.5M 5%","time":25,"intensity":0.275},{"sample":"1.5M 5%","time":25.5,"intensity":0.282},{"sample":"1.5M 5%","time":26,"intensity":0.245},{"sample":"1.5M 5%","time":26.5,"intensity":0.263},{"sample":"1.5M 5%","time":27,"intensity":0.251},{"sample":"1.5M 5%","time":27.5,"intensity":0.269},{"sample":"1.5M 5%","time":28,"intensity":0.229},{"sample":"1.5M 5%","time":28.5,"intensity":0.245},{"sample":"1.5M 5%","time":29,"intensity":0.219},{"sample":"1.5M 5%","time":29.5,"intensity":0.240},{"sample":"1.5M 5%","time":30,"intensity":0.224},{"sample":"1.5M 5%","time":30.5,"intensity":0.240},{"sample":"1.5M 5%","time":31,"intensity":0.195},{"sample":"1.5M 5%","time":31.5,"intensity":0.214},{"sample":"1.5M 5%","time":32,"intensity":0.224},{"sample":"1.5M 5%","time":32.5,"intensity":0.195},{"sample":"1.5M 5%","time":33,"intensity":0.186},{"sample":"1.5M 5%","time":33.5,"intensity":0.209},{"sample":"1.5M 5%","time":34,"intensity":0.204},{"sample":"1.5M 5%","time":34.5,"intensity":0.182},{"sample":"1.5M 5%","time":35,"intensity":0.214},{"sample":"1.5M 5%","time":35.5,"intensity":0.182},{"sample":"1.5M 5%","time":36,"intensity":0.195},{"sample":"1.5M 5%","time":36.5,"intensity":0.166},{"sample":"1.5M 5%","time":37,"intensity":0.182},{"sample":"1.5M 5%","time":37.5,"intensity":0.166},{"sample":"1.5M 5%","time":38,"intensity":0.186},{"sample":"1.5M 5%","time":38.5,"intensity":0.151},{"sample":"1.5M 5%","time":39,"intensity":0.174},{"sample":"1.5M 5%","time":39.5,"intensity":0.162},{"sample":"1.5M 5%","time":40,"intensity":0.151},{"sample":"1.5M 5%","time":40.5,"intensity":0.174},{"sample":"1.5M 5%","time":41,"intensity":0.155},{"sample":"1.5M 5%","time":41.5,"intensity":0.166},{"sample":"1.5M 5%","time":42,"intensity":0.138},{"sample":"1.5M 5%","time":42.5,"intensity":0.155},{"sample":"1.5M 5%","time":43,"intensity":0.155},{"sample":"1.5M 5%","time":43.5,"intensity":0.132},{"sample":"1.5M 5%","time":44,"intensity":0.158},{"sample":"1.5M 5%","time":44.5,"intensity":0.138},{"sample":"1.5M 5%","time":45,"intensity":0.129},
{"sample":"1.5M 10%","time":0.05,"intensity":0.012},{"sample":"1.5M 10%","time":0.15,"intensity":0.05},{"sample":"1.5M 10%","time":0.35,"intensity":0.35},{"sample":"1.5M 10%","time":0.55,"intensity":0.88},{"sample":"1.5M 10%","time":0.66,"intensity":1.0},
{"sample":"1.5M 10%","time":1,"intensity":0.933},{"sample":"1.5M 10%","time":1.5,"intensity":0.871},{"sample":"1.5M 10%","time":2,"intensity":0.776},{"sample":"1.5M 10%","time":2.5,"intensity":0.741},{"sample":"1.5M 10%","time":3,"intensity":0.676},{"sample":"1.5M 10%","time":3.5,"intensity":0.646},{"sample":"1.5M 10%","time":4,"intensity":0.562},{"sample":"1.5M 10%","time":4.5,"intensity":0.537},{"sample":"1.5M 10%","time":5,"intensity":0.513},{"sample":"1.5M 10%","time":5.5,"intensity":0.447},{"sample":"1.5M 10%","time":6,"intensity":0.398},{"sample":"1.5M 10%","time":6.5,"intensity":0.417},{"sample":"1.5M 10%","time":7,"intensity":0.380},{"sample":"1.5M 10%","time":7.5,"intensity":0.331},{"sample":"1.5M 10%","time":8,"intensity":0.355},{"sample":"1.5M 10%","time":8.5,"intensity":0.302},{"sample":"1.5M 10%","time":9,"intensity":0.302},{"sample":"1.5M 10%","time":9.5,"intensity":0.251},{"sample":"1.5M 10%","time":10,"intensity":0.257},{"sample":"1.5M 10%","time":10.5,"intensity":0.234},{"sample":"1.5M 10%","time":11,"intensity":0.240},{"sample":"1.5M 10%","time":11.5,"intensity":0.200},{"sample":"1.5M 10%","time":12,"intensity":0.209},{"sample":"1.5M 10%","time":12.5,"intensity":0.195},{"sample":"1.5M 10%","time":13,"intensity":0.174},{"sample":"1.5M 10%","time":13.5,"intensity":0.186},{"sample":"1.5M 10%","time":14,"intensity":0.162},{"sample":"1.5M 10%","time":14.5,"intensity":0.166},{"sample":"1.5M 10%","time":15,"intensity":0.141},{"sample":"1.5M 10%","time":15.5,"intensity":0.151},{"sample":"1.5M 10%","time":16,"intensity":0.148},{"sample":"1.5M 10%","time":16.5,"intensity":0.120},{"sample":"1.5M 10%","time":17,"intensity":0.148},{"sample":"1.5M 10%","time":17.5,"intensity":0.120},{"sample":"1.5M 10%","time":18,"intensity":0.110},{"sample":"1.5M 10%","time":18.5,"intensity":0.123},{"sample":"1.5M 10%","time":19,"intensity":0.0955},{"sample":"1.5M 10%","time":19.5,"intensity":0.117},{"sample":"1.5M 10%","time":20,"intensity":0.105},{"sample":"1.5M 10%","time":20.5,"intensity":0.0891},{"sample":"1.5M 10%","time":21,"intensity":0.100},{"sample":"1.5M 10%","time":21.5,"intensity":0.0871},{"sample":"1.5M 10%","time":22,"intensity":0.100},{"sample":"1.5M 10%","time":22.5,"intensity":0.0776},{"sample":"1.5M 10%","time":23,"intensity":0.0832},{"sample":"1.5M 10%","time":23.5,"intensity":0.0692},{"sample":"1.5M 10%","time":24,"intensity":0.0832},{"sample":"1.5M 10%","time":24.5,"intensity":0.0759},{"sample":"1.5M 10%","time":25,"intensity":0.0661},{"sample":"1.5M 10%","time":25.5,"intensity":0.0794},{"sample":"1.5M 10%","time":26,"intensity":0.0589},{"sample":"1.5M 10%","time":26.5,"intensity":0.0692},{"sample":"1.5M 10%","time":27,"intensity":0.0603},{"sample":"1.5M 10%","time":27.5,"intensity":0.0661},{"sample":"1.5M 10%","time":28,"intensity":0.0513},{"sample":"1.5M 10%","time":28.5,"intensity":0.0575},{"sample":"1.5M 10%","time":29,"intensity":0.0617},{"sample":"1.5M 10%","time":29.5,"intensity":0.0490},{"sample":"1.5M 10%","time":30,"intensity":0.0513},{"sample":"1.5M 10%","time":30.5,"intensity":0.0550},{"sample":"1.5M 10%","time":31,"intensity":0.0417},{"sample":"1.5M 10%","time":31.5,"intensity":0.0562},{"sample":"1.5M 10%","time":32,"intensity":0.0437},{"sample":"1.5M 10%","time":32.5,"intensity":0.0468},{"sample":"1.5M 10%","time":33,"intensity":0.0347},{"sample":"1.5M 10%","time":33.5,"intensity":0.0479},{"sample":"1.5M 10%","time":34,"intensity":0.0417},{"sample":"1.5M 10%","time":34.5,"intensity":0.0355},{"sample":"1.5M 10%","time":35,"intensity":0.0457},{"sample":"1.5M 10%","time":35.5,"intensity":0.0309},{"sample":"1.5M 10%","time":36,"intensity":0.0380},{"sample":"1.5M 10%","time":36.5,"intensity":0.0437},{"sample":"1.5M 10%","time":37,"intensity":0.0324},{"sample":"1.5M 10%","time":37.5,"intensity":0.0288},{"sample":"1.5M 10%","time":38,"intensity":0.0355},{"sample":"1.5M 10%","time":38.5,"intensity":0.0372},{"sample":"1.5M 10%","time":39,"intensity":0.0275},{"sample":"1.5M 10%","time":39.5,"intensity":0.0309},{"sample":"1.5M 10%","time":40,"intensity":0.0245},{"sample":"1.5M 10%","time":40.5,"intensity":0.0355},{"sample":"1.5M 10%","time":41,"intensity":0.0269},{"sample":"1.5M 10%","time":41.5,"intensity":0.0309},{"sample":"1.5M 10%","time":42,"intensity":0.0240},{"sample":"1.5M 10%","time":42.5,"intensity":0.0282},{"sample":"1.5M 10%","time":43,"intensity":0.0309},{"sample":"1.5M 10%","time":43.5,"intensity":0.0214},{"sample":"1.5M 10%","time":44,"intensity":0.0269},{"sample":"1.5M 10%","time":44.5,"intensity":0.0240},{"sample":"1.5M 10%","time":45,"intensity":0.0295}
]
},
"vconcat": [
{
  "width": 538, "height": 372,
  "title": {"text": "a", "dx": -80, "dy": 28},
  "layer": [
    {
      "data": {"name": "absorbance"},
      "mark": {"type": "line", "strokeWidth": 2.5, "interpolate": "monotone", "clip": true},
      "encoding": {
        "x": {"field": "wavelength", "type": "quantitative", "scale": {"domain": [800, 910], "nice": false, "zero": false},
              "axis": {"title": "Wavelength (nm)", "values": [810, 820, 830, 840, 850, 860, 870, 880, 890, 900], "labelExpr": "datum.value % 30 === 0 ? datum.label : ''", "tickSize": {"condition": {"test": "datum.value % 30 === 0", "value": -12}, "value": -6}, "labelPadding": 12.5, "titlePadding": 1}},
        "y": {"field": "absorbance", "type": "quantitative", "scale": {"domain": [0, 1.22], "nice": false, "zero": false},
              "axis": {"title": ["Normalized", "absorbance (a.u.)"], "ticks": false, "labels": false, "titleX": -61.5, "titleY": 177, "titleAlign": "center", "titleBaseline": "alphabetic", "titleLineHeight": 47}},
        "color": {"field": "sample", "type": "nominal", "scale": {"domain": ["0%", "1M 5%", "1M 10%", "1.5M 5%", "1.5M 10%"], "range": ["#000000", "#F44336", "#FFC107", "#2ECC80", "#3F51B5"]},
                  "legend": {"legendX": 15.5, "legendY": 169}}
      }
    },
    {
      "data": {"values": [{}]},
      "mark": {"type": "rule", "color": "#000", "strokeWidth": 2},
      "encoding": {"y": {"datum": 1.22}}
    },
    {
      "data": {"values": [{"wavelength": 874.2, "wavelength2": 859.2, "absorbance": 0.539}]},
      "mark": {"type": "rule", "color": "#0000FF", "strokeWidth": 5, "strokeDash": [6, 4]},
      "encoding": {"x": {"field": "wavelength", "type": "quantitative"}, "x2": {"field": "wavelength2"}, "y": {"field": "absorbance", "type": "quantitative"}}
    },
    {
      "data": {"values": [{"wavelength": 857.5, "absorbance": 0.539}]},
      "mark": {"type": "point", "shape": "triangle-left", "filled": true, "color": "#0000FF", "opacity": 1, "size": 290},
      "encoding": {"x": {"field": "wavelength", "type": "quantitative"}, "y": {"field": "absorbance", "type": "quantitative"}}
    },
    {
      "data": {"values": [{"wavelength": 803.0, "absorbance": 1.100, "label": "Rb(MAFA)PbI₃"}]},
      "mark": {"type": "text", "align": "left", "baseline": "alphabetic", "fontSize": 30, "font": "Liberation Sans", "color": "#000", "clip": true},
      "encoding": {"x": {"field": "wavelength", "type": "quantitative"}, "y": {"field": "absorbance", "type": "quantitative"}, "text": {"field": "label"}}
    },
    {
      "data": {"values": [{"wavelength": 908.7, "absorbance": 1.100, "label": "(MA:FA=1:1)"}]},
      "mark": {"type": "text", "align": "right", "baseline": "alphabetic", "fontSize": 30, "font": "Liberation Sans", "color": "#000", "clip": true},
      "encoding": {"x": {"field": "wavelength", "type": "quantitative"}, "y": {"field": "absorbance", "type": "quantitative"}, "text": {"field": "label"}}
    }
  ]
},
{
  "width": 538, "height": 371,
  "title": {"text": "b", "dx": -85, "dy": 27},
  "layer": [
    {
      "data": {"name": "pl"},
      "mark": {"type": "line", "strokeWidth": 2.4, "clip": true},
      "encoding": {
        "x": {"field": "wavelength", "type": "quantitative", "scale": {"domain": [755, 815], "nice": false, "zero": false},
              "axis": {"title": "Wavelength (nm)", "values": [760, 765, 770, 775, 780, 785, 790, 795, 800, 805, 810], "labelExpr": "datum.value % 10 === 0 ? datum.label : ''", "tickSize": {"condition": {"test": "datum.value % 10 === 0", "value": -12}, "value": -6}, "labelPadding": 13, "titlePadding": 3}},
        "y": {"field": "pl", "type": "quantitative", "scale": {"domain": [0, 1.23], "nice": false, "zero": false},
              "axis": {"title": ["Normalized", "PL intensity (a.u.)"], "ticks": false, "labels": false, "titleX": -61.5, "titleY": 181, "titleAlign": "center", "titleBaseline": "alphabetic", "titleLineHeight": 46}},
        "color": {"field": "sample", "type": "nominal", "scale": {"domain": ["0%", "1M 5%", "1M 10%", "1.5M 5%", "1.5M 10%"], "range": ["#000000", "#F44336", "#FFC107", "#2ECC80", "#3F51B5"]},
                  "legend": {"legendX": 16, "legendY": 87}}
      }
    },
    {
      "data": {"values": [{}]},
      "mark": {"type": "rule", "color": "#000", "strokeWidth": 2},
      "encoding": {"y": {"datum": 1.23}}
    },
    {
      "data": {"values": [{"wavelength": 799.7, "wavelength2": 793.2, "pl": 0.666}]},
      "mark": {"type": "rule", "color": "#0000FF", "strokeWidth": 5, "strokeDash": [6, 4]},
      "encoding": {"x": {"field": "wavelength", "type": "quantitative"}, "x2": {"field": "wavelength2"}, "y": {"field": "pl", "type": "quantitative"}}
    },
    {
      "data": {"values": [{"wavelength": 792.3, "pl": 0.666}]},
      "mark": {"type": "point", "shape": "triangle-left", "filled": true, "color": "#0000FF", "opacity": 1, "size": 290},
      "encoding": {"x": {"field": "wavelength", "type": "quantitative"}, "y": {"field": "pl", "type": "quantitative"}}
    },
    {
      "data": {"values": [{"wavelength": 756.7, "pl": 1.112, "label": "Rb(MAFA)PbI₃"}, {"wavelength": 756.9, "pl": 0.989, "label": "λₑₓ=532 nm"}]},
      "mark": {"type": "text", "align": "left", "baseline": "alphabetic", "fontSize": 30, "font": "Liberation Sans", "color": "#000", "clip": true},
      "encoding": {"x": {"field": "wavelength", "type": "quantitative"}, "y": {"field": "pl", "type": "quantitative"}, "text": {"field": "label"}}
    },
    {
      "data": {"values": [{"wavelength": 814.3, "pl": 1.105, "label": "(MA:FA=1:1)"}]},
      "mark": {"type": "text", "align": "right", "baseline": "alphabetic", "fontSize": 30, "font": "Liberation Sans", "color": "#000", "clip": true},
      "encoding": {"x": {"field": "wavelength", "type": "quantitative"}, "y": {"field": "pl", "type": "quantitative"}, "text": {"field": "label"}}
    }
  ]
},
{
  "width": 538, "height": 372,
  "title": {"text": "c", "dx": -76, "dy": 22},
  "layer": [
    {
      "data": {"name": "trpl"},
      "mark": {"type": "line", "strokeWidth": 2.6, "clip": true},
      "encoding": {
        "x": {"field": "time", "type": "quantitative", "scale": {"domain": [-2, 44.6], "nice": false, "zero": false},
              "axis": {"title": "Time (ns)", "values": [0, 5, 10, 15, 20, 25, 30, 35, 40], "labelExpr": "datum.value % 10 === 0 ? datum.label : ''", "tickSize": {"condition": {"test": "datum.value % 10 === 0", "value": -12}, "value": -6}, "labelPadding": 12.5, "titlePadding": 3}},
        "y": {"field": "intensity", "type": "quantitative", "scale": {"type": "log", "domain": [0.0182, 1.207], "nice": false},
              "axis": {"title": ["Normalized", "PL intensity (a.u.)"], "labels": false, "values": [0.02, 0.03, 0.04, 0.05, 0.06, 0.07, 0.08, 0.09, 0.1, 0.2, 0.3, 0.4, 0.5, 0.6, 0.7, 0.8, 0.9, 1], "tickSize": {"condition": {"test": "datum.value === 1 || datum.value === 0.1", "value": -12}, "value": -6}, "titleX": -61.5, "titleY": 179, "titleAlign": "center", "titleBaseline": "alphabetic", "titleLineHeight": 44}},
        "color": {"field": "sample", "type": "nominal", "scale": {"domain": ["0%", "1M 5%", "1M 10%", "1.5M 5%", "1.5M 10%"], "range": ["#000000", "#F44336", "#FFC107", "#2ECC80", "#3F51B5"]},
                  "legend": {"legendX": 37, "legendY": 181}}
      }
    },
    {
      "data": {"values": [{}]},
      "mark": {"type": "rule", "color": "#000", "strokeWidth": 2},
      "encoding": {"y": {"datum": 1.207}}
    },
    {
      "data": {"values": [{"time": 27.55, "intensity": 0.820, "label": "Rb(MAFA)PbI₃"}, {"time": 28.27, "intensity": 0.532, "label": "(MA:FA=1:1)"}]},
      "mark": {"type": "text", "align": "left", "baseline": "alphabetic", "fontSize": 30, "font": "Liberation Sans", "color": "#000", "clip": true},
      "encoding": {"x": {"field": "time", "type": "quantitative"}, "y": {"field": "intensity", "type": "quantitative"}, "text": {"field": "label"}}
    }
  ]
}
]
}
